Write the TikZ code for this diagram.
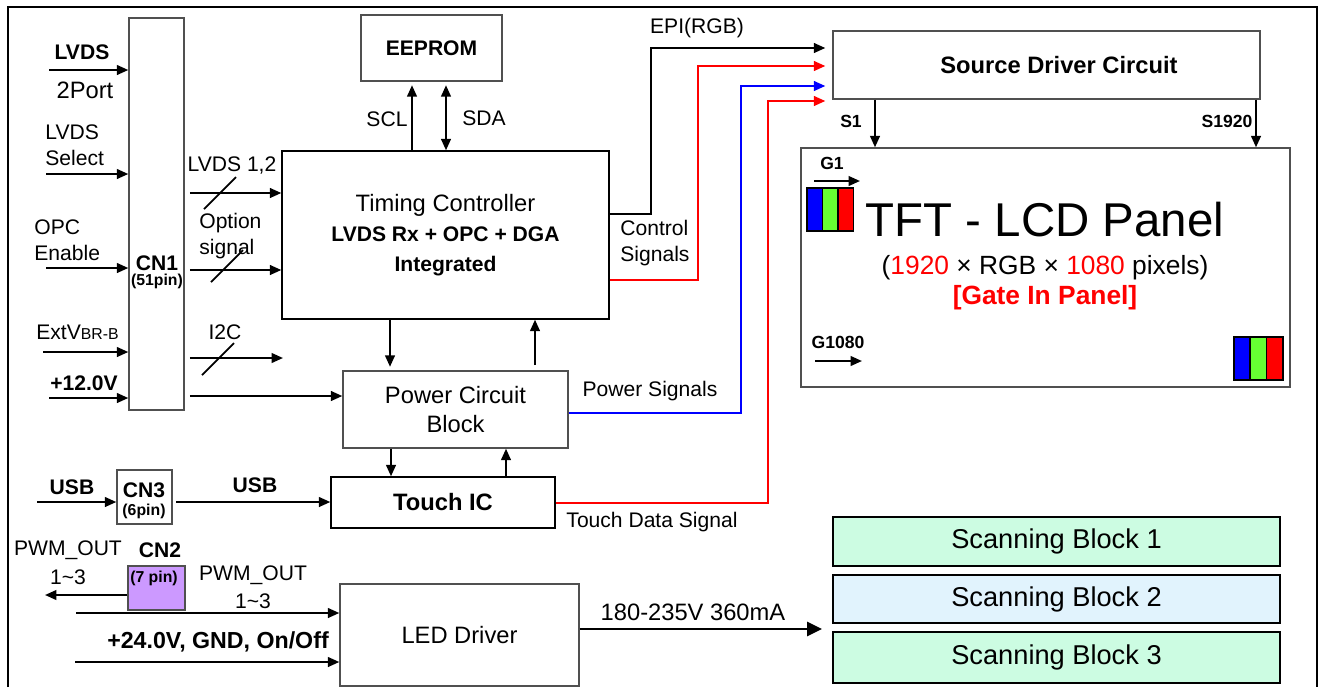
\documentclass[tikz,border=0pt]{standalone}
\usepackage{fontspec}
\setmainfont{Liberation Sans}
\usetikzlibrary{arrows.meta}
\definecolor{mint}{HTML}{CCFCE2}
\definecolor{skyblue}{HTML}{E1F3FD}
\definecolor{lilac}{HTML}{CC99FF}
\definecolor{pixblue}{HTML}{0000FF}
\definecolor{pixgreen}{HTML}{66FF33}
\definecolor{pixred}{HTML}{FF0000}
\definecolor{edge}{HTML}{505050}

\tikzset{
  blk/.style={draw=edge, line width=0.8pt, fill=white, inner sep=0pt},
  sig/.style={line width=1.2pt, -{Triangle[length=6.5pt,width=5.5pt]}},
  dsig/.style={line width=1.2pt, {Triangle[length=6.5pt,width=5.5pt]}-{Triangle[length=6.5pt,width=5.5pt]}},
  bus/.style={line width=1pt},
  txt/.style={font=\fontsize{12}{15}\selectfont, inner sep=0pt},
  txtb/.style={font=\fontsize{12}{15}\selectfont\bfseries, inner sep=0pt},
  pinlbl/.style={font=\fontsize{9}{10}\selectfont\bfseries, inner sep=0pt},
  pinsig/.style={font=\fontsize{10}{12}\selectfont\bfseries, inner sep=0pt},
}

\newcommand{\rgbcell}[3]{%
  \foreach \c [count=\k from 0] in {pixblue,pixgreen,pixred}
    \filldraw[fill=\c, draw=black, line width=1pt] ({#1+\k*#3},#2) rectangle ++(#3,43);}

\begin{document}
\begin{tikzpicture}[x=0.02cm,y=-0.02cm]
\useasboundingbox (0,0) rectangle (1328,687);
\draw[line width=1.4pt] (8,687) -- (8,7) -- (1317,7) -- (1317,687);

% blocks
\node[blk, minimum width=1.1cm, minimum height=7.84cm] (cn1) at (156.5,214) {};
\node[blk, minimum width=2.82cm, minimum height=1.32cm, font=\fontsize{12}{15}\selectfont\bfseries] (eeprom) at (431.5,48) {EEPROM};
\node[blk, draw=black, minimum width=6.54cm, minimum height=3.36cm, align=center, font=\fontsize{13.5}{17}\selectfont] (tcon) at (445.5,235) {Timing Controller\\{\fontsize{12}{17}\selectfont\bfseries LVDS Rx + OPC + DGA}\\{\fontsize{12}{17}\selectfont\bfseries Integrated}};
\node[blk, minimum width=8.54cm, minimum height=1.36cm, font=\fontsize{13.5}{16}\selectfont\bfseries] (src) at (1046.5,65) {\hspace*{0.5cm}Source Driver Circuit};
\node[blk, minimum width=9.78cm, minimum height=4.78cm] (panel) at (1045.5,267.5) {};
\node[blk, minimum width=4.5cm, minimum height=1.54cm, align=center, font=\fontsize{13.5}{16}\selectfont] (pwr) at (455.5,409.5) {Power Circuit\\Block};
\node[blk, draw=black, minimum width=4.48cm, minimum height=1.02cm, font=\fontsize{13.5}{16}\selectfont\bfseries] (touch) at (443,502.5) {Touch IC};
\node[blk, minimum width=1.1cm, minimum height=1.08cm] (cn3) at (144.5,497) {};
\node[blk, fill=lilac, minimum width=1.14cm, minimum height=0.88cm] (cn2) at (156.5,588) {};
\node[blk, minimum width=4.78cm, minimum height=2.04cm, font=\fontsize{13.5}{16}\selectfont] (led) at (459.5,635) {LED Driver};
\foreach \i/\y/\h/\c in {1/541.5/0.98/mint,2/599/0.96/skyblue,3/657.5/1.02/mint}
  \node[blk, draw=black, fill=\c, minimum width=8.94cm, minimum height=\h cm, font=\fontsize{15.5}{18}\selectfont] (scan\i) at (1056.5,\y) {Scanning Block \i};

% panel content
\rgbcell{807}{188}{15.5}
\rgbcell{1234}{337}{16.3}
\node[font=\fontsize{27}{30}\selectfont, inner sep=0pt] (tftlbl) at (1045,220) {TFT - LCD Panel};
\node[font=\fontsize{15}{18}\selectfont, inner sep=0pt] (reslbl) at (1045,268) {(\textcolor{pixred}{1920} × RGB × \textcolor{pixred}{1080} pixels)};
\node[font=\fontsize{15}{18}\selectfont\bfseries, text=pixred, inner sep=0pt] (giplbl) at (1045,298) {[Gate In Panel]};
\node[pinsig] (g1lbl) at (832,163) {G1};
\node[pinsig] (g1080lbl) at (838,342) {G1080};
\coordinate (g1a) at (814,181);
\coordinate (g1b) at (860,181);
\coordinate (gna) at (815,361);
\coordinate (gnb) at (862,361);
\draw[sig] (g1a) -- (g1b);
\draw[sig] (gna) -- (gnb);

% CN1 inputs
\foreach \n/\x/\y in {lvds/49/70,sel/46/174,opc/46/268,ext/43/352,vin/49/398}{
  \coordinate (\n) at (\x,\y);
  \draw[sig] (\n) -- (\n -| cn1.west);
}
\node[txtb] (lvdsname) at (82,52) {LVDS};
\node[txt, font=\fontsize{13.5}{16}\selectfont] (lvdsport) at (85,90) {2Port};
\node[txt, anchor=west, align=left] (sellbl) at (45,145) {LVDS\\Select};
\node[txt, anchor=west, align=left] (opclbl) at (34,240) {OPC\\Enable};
\node[txt, anchor=west] (extlbl) at (36,332) {ExtV{\fontsize{9}{10}\selectfont BR-B}};
\node[txtb] (vinlbl) at (84,383) {+12.0V};
\node[txtb] (cn1name) at (157,263) {CN1};
\node[pinlbl] (cn1pins) at (157,281) {(51pin)};

% CN1 outputs
\coordinate (i2cend) at (283,358);
\draw[sig, shorten <=3pt] (cn1.east |- 0,193) -- (tcon.west |- 0,193);
\draw[sig, shorten <=3pt] (cn1.east |- 0,270) -- (tcon.west |- 0,270);
\draw[sig, shorten <=3pt] (cn1.east |- i2cend) -- (i2cend);
\draw[sig, shorten <=3pt] (cn1.east |- 0,396) -- (pwr.west |- 0,396);
\foreach \x/\y in {220/193,227/266,218/359}
  \draw[bus] (\x-16,\y+16) -- (\x+16,\y-16);
\node[txt] (lvds12) at (232,165) {LVDS 1,2};
\node[txt, anchor=west, align=left] (optlbl) at (199,236) {Option\\signal};
\node[txt] (i2clbl) at (225,332) {I2C};

% EEPROM
\draw[sig, shorten >=2pt] (412,0 |- tcon.north) -- (412,0 |- eeprom.south);
\draw[dsig, shorten <=2pt] (446,0 |- eeprom.south) -- (446,0 |- tcon.north);
\node[txt] (scllbl) at (387,119) {SCL};
\node[txt] (sdalbl) at (484,118) {SDA};

% vertical links
\draw[sig, shorten >=2pt] (390,0 |- tcon.south) -- (390,0 |- pwr.north);
\draw[sig, shorten <=3pt] (535,0 |- pwr.north) -- (535,0 |- tcon.south);
\draw[sig] (391,0 |- pwr.south) -- (391,0 |- touch.north);
\draw[sig] (506,0 |- touch.north) -- (506,0 |- pwr.south);

% signals to source driver
\draw[sig, shorten >=4pt] (tcon.east |- 0,214) -| (651,48) -- (src.west |- 0,48);
\draw[sig, pixred, shorten >=4pt] (tcon.east |- 0,280) -| (698,66) -- (src.west |- 0,66);
\draw[sig, pixblue, shorten >=4pt] (pwr.east |- 0,413) -| (741,86) -- (src.west |- 0,86);
\draw[sig, pixred, shorten >=4pt] (touch.east |- 0,503) -| (768,101) -- (src.west |- 0,101);
\node[txt] (epilbl) at (697,28) {EPI(RGB)};
\node[txt, anchor=west, align=left] (ctrllbl) at (620,243) {Control\\Signals};
\node[txt] (pwrsig) at (650,391) {Power Signals};
\node[txt] (tdslbl) at (652,522) {Touch Data Signal};

% source driver outputs
\draw[sig] (875,0 |- src.south) -- (875,0 |- panel.north);
\draw[sig] (1256,0 |- src.south) -- (1256,0 |- panel.north);
\node[pinsig] (s1lbl) at (851,121) {S1};
\node[pinsig] (s1920lbl) at (1227,121) {S1920};

% USB
\coordinate (usbin) at (37,502);
\draw[sig] (usbin) -- (usbin -| cn3.west);
\draw[sig, shorten <=2pt] (cn3.east |- usbin) -- (touch.west |- usbin);
\node[txtb] (usb1) at (72,487) {USB};
\node[txtb] (usb2) at (255,485) {USB};
\node[txtb] (cn3name) at (144,490) {CN3};
\node[pinlbl] (cn3pins) at (144,511) {(6pin)};

% CN2 / LED driver
\coordinate (pwmout) at (45,595);
\coordinate (pwmin) at (76,613);
\coordinate (supin) at (75,662);
\coordinate (ledout) at (822,629);
\draw[sig] (cn2.west |- pwmout) -- (pwmout);
\draw[sig] (pwmin) -- (pwmin -| led.west);
\draw[sig] (supin) -- (supin -| led.west);
\draw[line width=1.4pt, -{Triangle[length=8.5pt,width=8pt]}] (led.east |- ledout) -- (ledout);
\node[txt, align=center, font=\fontsize{12}{16.5}\selectfont] (pwmoutlbl) at (68,563) {PWM\_OUT\\1\textasciitilde 3};
\node[txtb] (cn2name) at (160,550) {CN2};
\node[pinlbl] (cn2pins) at (154,578) {(7 pin)};
\node[txt, align=center, font=\fontsize{12}{16}\selectfont] (pwminlbl) at (253,587) {PWM\_OUT\\1\textasciitilde 3};
\node[txtb, font=\fontsize{13.2}{16}\selectfont\bfseries] (suplbl) at (218,642) {+24.0V, GND, On/Off};
\node[txt, font=\fontsize{13.5}{16}\selectfont] (ledlbl) at (693,612) {180-235V 360mA};
\end{tikzpicture}
\end{document}
